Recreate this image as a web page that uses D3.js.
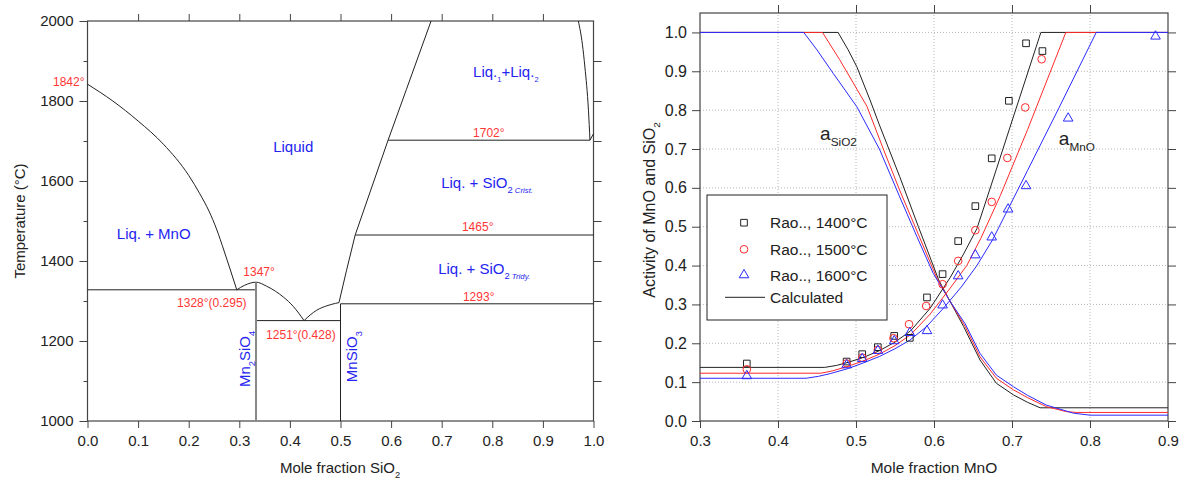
<!DOCTYPE html>
<html>
<head>
<meta charset="utf-8">
<script src="https://cdn.jsdelivr.net/npm/d3@7"></script>
<style>
  body { margin: 0; background: #fff; }
  svg { font-family: Arial, "Liberation Sans", sans-serif; }
</style>
</head>
<body>
<div id="app"></div>
<script>
// ---------- left panel: MnO-SiO2 phase diagram (x = mole fraction SiO2, T in C) ----------
const mnoLiquidus = [[0, 1842], [0.05, 1800], [0.1, 1750], [0.15, 1692], [0.2, 1614], [0.222, 1568],
  [0.24, 1525], [0.255, 1480], [0.27, 1425], [0.283, 1375], [0.295, 1328]];
const mn2sio4Liquidus = [[0.295, 1328], [0.31, 1339], [0.333, 1347], [0.354, 1337], [0.372, 1324],
  [0.387, 1310], [0.407, 1286], [0.428, 1251]];
const mnsio3Liquidus = [[0.428, 1251], [0.44, 1265], [0.453, 1277], [0.473, 1288], [0.49, 1294], [0.497, 1296]];
const sio2Liquidus = [[0.497, 1296], [0.512, 1377], [0.529, 1465], [0.594, 1702], [0.63, 1828], [0.679, 2000]];
const gapRight = [[0.970, 2000], [0.978, 1942], [0.983, 1885], [0.990, 1777], [0.993, 1702]];
const gapTail = [[0.993, 1702], [1.0, 1718]];

const isotherms = [
  { t: 1328, x0: 0, x1: 0.333 },
  { t: 1251, x0: 0.333, x1: 0.5 },
  { t: 1293, x0: 0.5, x1: 1 },
  { t: 1465, x0: 0.529, x1: 1 },
  { t: 1702, x0: 0.594, x1: 0.993 }
];
const compounds = [
  { x: 0.333, t0: 1000, t1: 1347, grey: true },
  { x: 0.5, t0: 1000, t1: 1293, grey: false }
];

// red temperature notes: [text, x, T, anchor]
const tempNotes = [
  ["1842°", -0.006, 1838, "end"],
  ["1347°", 0.308, 1362, "start"],
  ["1328°(0.295)", 0.177, 1285, "start"],
  ["1251°(0.428)", 0.353, 1205, "start"],
  ["1293°", 0.742, 1300, "start"],
  ["1465°", 0.740, 1475, "start"],
  ["1702°", 0.762, 1710, "start"]
];

// ---------- right panel: activities (x = mole fraction MnO) ----------
const temps = ["1400", "1500", "1600"];
const tempColors = ["#222222", "#ff2a2a", "#2a2aff"];

const aSiO2_1400 = [[0.3, 1], [0.477, 1], [0.49, 0.955], [0.501, 0.912], [0.518, 0.826], [0.53, 0.762],
  [0.556, 0.629], [0.58, 0.50], [0.606, 0.363], [0.62, 0.31], [0.638, 0.243], [0.659, 0.157],
  [0.68, 0.097], [0.702, 0.067], [0.72, 0.048], [0.736, 0.034], [0.9, 0.034]];
const aSiO2_1500 = [[0.3, 1], [0.457, 1], [0.468, 0.965], [0.479, 0.93], [0.514, 0.81], [0.535, 0.70],
  [0.556, 0.594], [0.58, 0.48], [0.603, 0.371], [0.62, 0.31], [0.64, 0.243], [0.659, 0.165],
  [0.68, 0.11], [0.702, 0.08], [0.72, 0.06], [0.744, 0.037], [0.77, 0.024], [0.783, 0.022], [0.9, 0.022]];
const aSiO2_1600 = [[0.3, 1], [0.433, 1], [0.45, 0.955], [0.471, 0.894], [0.501, 0.809], [0.53, 0.70],
  [0.556, 0.577], [0.578, 0.475], [0.599, 0.38], [0.62, 0.31], [0.64, 0.25], [0.659, 0.174],
  [0.68, 0.118], [0.702, 0.088], [0.72, 0.066], [0.744, 0.041], [0.779, 0.02], [0.80, 0.015], [0.9, 0.015]];

const aMnO_1400 = [[0.3, 0.138], [0.46, 0.138], [0.475, 0.143], [0.49, 0.151], [0.51, 0.164],
  [0.53, 0.181], [0.55, 0.203], [0.57, 0.232], [0.595, 0.29], [0.621, 0.37], [0.638, 0.43],
  [0.655, 0.495], [0.68, 0.648], [0.70, 0.772], [0.737, 1.0], [0.9, 1.0]];
const aMnO_1500 = [[0.3, 0.123], [0.455, 0.123], [0.47, 0.129], [0.49, 0.141], [0.51, 0.155],
  [0.53, 0.172], [0.55, 0.194], [0.57, 0.222], [0.595, 0.275], [0.62, 0.34], [0.642, 0.40],
  [0.66, 0.47], [0.685, 0.58], [0.72, 0.75], [0.769, 1.0], [0.9, 1.0]];
const aMnO_1600 = [[0.3, 0.110], [0.436, 0.110], [0.452, 0.115], [0.467, 0.122], [0.49, 0.135],
  [0.51, 0.150], [0.53, 0.166], [0.55, 0.186], [0.569, 0.208], [0.59, 0.242], [0.612, 0.29],
  [0.635, 0.345], [0.655, 0.40], [0.675, 0.466], [0.72, 0.645], [0.76, 0.805], [0.808, 1.0], [0.9, 1.0]];

const calcSiO2 = [aSiO2_1400, aSiO2_1500, aSiO2_1600];
const calcMnO = [aMnO_1400, aMnO_1500, aMnO_1600];

// Rao.. measurements
const raoX_1400 = [0.36, 0.488, 0.508, 0.528, 0.549, 0.569, 0.591, 0.611, 0.631, 0.653, 0.674, 0.696, 0.718, 0.739];
const raoA_1400 = [0.148, 0.153, 0.172, 0.190, 0.219, 0.214, 0.318, 0.378, 0.463, 0.553, 0.676, 0.824, 0.972, 0.952];
const raoX_1500 = [0.36, 0.488, 0.508, 0.528, 0.548, 0.568, 0.590, 0.611, 0.631, 0.653, 0.674, 0.694, 0.717, 0.738];
const raoA_1500 = [0.133, 0.148, 0.163, 0.183, 0.213, 0.249, 0.296, 0.352, 0.412, 0.491, 0.564, 0.677, 0.807, 0.931];
const raoX_1600 = [0.36, 0.488, 0.508, 0.528, 0.549, 0.569, 0.591, 0.611, 0.631, 0.653, 0.674, 0.695, 0.718, 0.772, 0.884];
const raoA_1600 = [0.116, 0.144, 0.160, 0.181, 0.206, 0.227, 0.232, 0.298, 0.373, 0.427, 0.473, 0.545, 0.605, 0.779, 0.990];

const raoSets = [
  { x: raoX_1400, a: raoA_1400, symbol: d3.symbolSquare, size: 44 },
  { x: raoX_1500, a: raoA_1500, symbol: d3.symbolCircle, size: 46 },
  { x: raoX_1600, a: raoA_1600, symbol: d3.symbolTriangle, size: 40 }
];

const red = "#ff3636";
const blue = "#2424f0";
const ink = "#222";

const svg = d3.select("#app").append("svg")
  .attr("width", 1187).attr("height", 479);

// text with sub/superscripts; parts are strings or {t, sub, sup, it, k}
function rich(sel, parts, size) {
  let off = 0;
  parts.forEach(p => {
    if (typeof p === "string") p = { t: p };
    let target = 0, fs = size;
    if (p.sub) { target = size * 0.32; fs = size * (p.k || 0.62); }
    if (p.sup) { target = -size * 0.42; fs = size * (p.k || 0.62); }
    const s = sel.append("tspan").text(p.t).attr("font-size", fs).attr("dy", target - off);
    if (p.it) s.attr("font-style", "italic");
    off = target;
  });
}

function styleAxis(g, fs) {
  g.select(".domain").remove();
  g.selectAll(".tick line").attr("stroke", "#444");
  g.selectAll(".tick text").attr("font-size", fs).attr("fill", ink);
}

// ================= LEFT PANEL =================
const xL = d3.scaleLinear().domain([0, 1]).range([87.5, 593.5]);
const yL = d3.scaleLinear().domain([1000, 2000]).range([421, 21]);
const left = svg.append("g");
const fmt1 = d3.format(".1f");

left.append("g").attr("transform", `translate(0,${yL(1000)})`)
  .call(d3.axisBottom(xL).tickValues(d3.range(0, 11).map(i => i / 10)).tickFormat(fmt1).tickSize(7).tickPadding(7))
  .call(g => styleAxis(g, 15));
left.append("g").attr("transform", `translate(0,${yL(2000)})`)
  .call(d3.axisTop(xL).tickValues(d3.range(1, 10).map(i => i / 10)).tickFormat("").tickSize(7))
  .call(g => styleAxis(g, 15));
left.append("g").attr("transform", `translate(${xL(0)},0)`)
  .call(d3.axisLeft(yL).tickValues(d3.range(1000, 2001, 200)).tickFormat(d3.format("d")).tickSize(8).tickPadding(6))
  .call(g => styleAxis(g, 15));
left.append("g").attr("transform", `translate(${xL(0)},0)`)
  .call(d3.axisLeft(yL).tickValues(d3.range(1100, 2000, 200)).tickFormat("").tickSize(4))
  .call(g => styleAxis(g, 15));
left.append("g").attr("transform", `translate(${xL(1)},0)`)
  .call(d3.axisRight(yL).tickValues(d3.range(1100, 2000, 100)).tickFormat("").tickSize(8))
  .call(g => styleAxis(g, 15));

left.append("rect")
  .attr("x", xL(0)).attr("y", yL(2000))
  .attr("width", xL(1) - xL(0)).attr("height", yL(1000) - yL(2000))
  .attr("fill", "none").attr("stroke", "#444").attr("stroke-width", 1.2);

const lineL = d3.line().x(d => xL(d[0])).y(d => yL(d[1]));
const lineLsmooth = d3.line().x(d => xL(d[0])).y(d => yL(d[1])).curve(d3.curveMonotoneX);

[mnoLiquidus, mn2sio4Liquidus, mnsio3Liquidus, gapRight].forEach(c => {
  left.append("path").attr("d", lineLsmooth(c))
    .attr("fill", "none").attr("stroke", ink).attr("stroke-width", 1);
});
[sio2Liquidus, gapTail].forEach(c => {
  left.append("path").attr("d", lineL(c))
    .attr("fill", "none").attr("stroke", ink).attr("stroke-width", 1);
});

left.selectAll(".iso").data(isotherms).join("line")
  .attr("x1", d => xL(d.x0)).attr("x2", d => xL(d.x1))
  .attr("y1", d => yL(d.t)).attr("y2", d => yL(d.t))
  .attr("stroke", ink).attr("stroke-width", 1);

left.selectAll(".cmp").data(compounds).join("line")
  .attr("x1", d => xL(d.x)).attr("x2", d => xL(d.x))
  .attr("y1", d => yL(d.t0)).attr("y2", d => yL(d.t1))
  .attr("stroke", d => d.grey ? "#888" : ink)
  .attr("stroke-width", d => d.grey ? 2 : 1);

left.selectAll(".note").data(tempNotes).join("text")
  .attr("x", d => xL(d[1])).attr("y", d => yL(d[2]))
  .attr("text-anchor", d => d[3])
  .attr("font-size", 12).attr("fill", red)
  .text(d => d[0]);

function phaseLabel(parts, x, t, rotate) {
  const px = xL(x), py = yL(t);
  const txt = left.append("text").attr("x", px).attr("y", py)
    .attr("fill", blue).attr("font-size", 15);
  if (rotate) txt.attr("transform", `rotate(-90,${px},${py})`);
  rich(txt, parts, 15);
}
phaseLabel(["Liquid"], 0.367, 1672);
phaseLabel(["Liq. + MnO"], 0.058, 1455);
phaseLabel(["Liq.", { t: "1", sub: true, k: 0.5 }, "+Liq.", { t: "2", sub: true, k: 0.5 }], 0.762, 1860);
phaseLabel(["Liq. + SiO", { t: "2", sub: true }, { t: " Crist.", sub: true, it: true, k: 0.52 }], 0.699, 1582);
phaseLabel(["Liq. + SiO", { t: "2", sub: true }, { t: " Tridy.", sub: true, it: true, k: 0.52 }], 0.693, 1367);
phaseLabel(["Mn", { t: "2", sub: true }, "SiO", { t: "4", sub: true }], 0.321, 1085, true);
phaseLabel(["MnSiO", { t: "3", sub: true }], 0.533, 1097, true);

const ytl = left.append("text").attr("transform", `translate(25,${(yL(1000) + yL(2000)) / 2}) rotate(-90)`)
  .attr("text-anchor", "middle").attr("font-size", 15).attr("fill", ink);
rich(ytl, ["Temperature (°C)"], 15);
const xtl = left.append("text").attr("x", 340).attr("y", 473)
  .attr("text-anchor", "middle").attr("font-size", 15).attr("fill", ink);
rich(xtl, ["Mole fraction SiO", { t: "2", sub: true }], 15);

// ================= RIGHT PANEL =================
const xR = d3.scaleLinear().domain([0.3, 0.9]).range([700, 1168]);
const yR = d3.scaleLinear().domain([0, 1.05]).range([421, 13]);
const right = svg.append("g");
const xTicksR = d3.range(3, 10).map(i => i / 10);
const yTicksR = d3.range(0, 11).map(i => i / 10);

// dotted grid
right.selectAll(".gx").data(xTicksR.slice(1, -1)).join("line")
  .attr("x1", d => xR(d)).attr("x2", d => xR(d)).attr("y1", yR(0)).attr("y2", yR(1.05))
  .attr("stroke", "#b8b8b8").attr("stroke-dasharray", "1,2");
right.selectAll(".gy").data(yTicksR.slice(1)).join("line")
  .attr("x1", xR(0.3)).attr("x2", xR(0.9)).attr("y1", d => yR(d)).attr("y2", d => yR(d))
  .attr("stroke", "#b8b8b8").attr("stroke-dasharray", "1,2");

right.append("g").attr("transform", `translate(0,${yR(0)})`)
  .call(d3.axisBottom(xR).tickValues(xTicksR).tickFormat(fmt1).tickSize(7).tickPadding(7))
  .call(g => styleAxis(g, 15));
right.append("g").attr("transform", `translate(0,${yR(1.05)})`)
  .call(d3.axisTop(xR).tickValues(xTicksR.slice(1, -1)).tickFormat("").tickSize(8))
  .call(g => styleAxis(g, 15));
right.append("g").attr("transform", `translate(${xR(0.3)},0)`)
  .call(d3.axisLeft(yR).tickValues(yTicksR).tickFormat(fmt1).tickSize(8).tickPadding(5))
  .call(g => styleAxis(g, 16));
right.append("g").attr("transform", `translate(${xR(0.9)},0)`)
  .call(d3.axisRight(yR).tickValues(yTicksR).tickFormat("").tickSize(8))
  .call(g => styleAxis(g, 16));

right.append("rect")
  .attr("x", xR(0.3)).attr("y", yR(1.05))
  .attr("width", xR(0.9) - xR(0.3)).attr("height", yR(0) - yR(1.05))
  .attr("fill", "none").attr("stroke", "#444").attr("stroke-width", 1.2);

const lineR = d3.line().x(d => xR(d[0])).y(d => yR(d[1]));
const curves = right.append("g");
[calcSiO2, calcMnO].forEach(set => {
  set.forEach((c, i) => {
    curves.append("path").attr("d", lineR(c))
      .attr("fill", "none").attr("stroke", tempColors[i]).attr("stroke-width", 1);
  });
});

raoSets.forEach((s, i) => {
  right.append("g").selectAll("path").data(s.x.map((x, j) => [x, s.a[j]])).join("path")
    .attr("transform", d => `translate(${xR(d[0])},${yR(d[1])})`)
    .attr("d", d3.symbol(s.symbol, s.size))
    .attr("fill", "none").attr("stroke", tempColors[i]).attr("stroke-width", 1);
});

// activity labels
const aSi = right.append("text").attr("x", xR(0.454)).attr("y", yR(0.723)).attr("fill", ink);
rich(aSi, [{ t: "a" }, { t: "SiO2", sub: true, k: 0.62 }], 19);
const aMn = right.append("text").attr("x", xR(0.760)).attr("y", yR(0.710)).attr("fill", ink);
rich(aMn, [{ t: "a" }, { t: "MnO", sub: true, k: 0.62 }], 19);

// legend
const leg = right.append("g");
leg.append("rect").attr("x", 707).attr("y", 195).attr("width", 180).attr("height", 125)
  .attr("fill", "#fff").attr("stroke", ink).attr("stroke-width", 1);
const legRows = [222.7, 249.3, 275];
raoSets.forEach((s, i) => {
  leg.append("path").attr("transform", `translate(744,${legRows[i]})`)
    .attr("d", d3.symbol(s.symbol, s.size))
    .attr("fill", "none").attr("stroke", tempColors[i]).attr("stroke-width", 1);
  leg.append("text").attr("x", 770).attr("y", legRows[i] + 5.5)
    .attr("font-size", 15.5).attr("fill", ink).text(`Rao.., ${temps[i]}°C`);
});
leg.append("line").attr("x1", 725).attr("x2", 765).attr("y1", 297.3).attr("y2", 297.3)
  .attr("stroke", ink).attr("stroke-width", 1);
leg.append("text").attr("x", 770).attr("y", 302.8).attr("font-size", 15.5).attr("fill", ink).text("Calculated");

const ytr = right.append("text").attr("transform", `translate(655,210) rotate(-90)`)
  .attr("text-anchor", "middle").attr("font-size", 16).attr("fill", ink);
rich(ytr, ["Activity of MnO and SiO", { t: "2", sub: true }], 16);
right.append("text").attr("x", 934).attr("y", 473).attr("text-anchor", "middle")
  .attr("font-size", 15.5).attr("fill", ink).text("Mole fraction MnO");
</script>
</body>
</html>
